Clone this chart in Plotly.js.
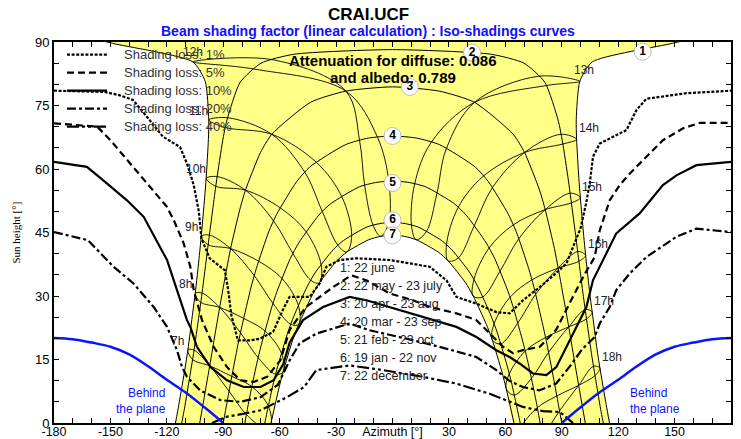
<!DOCTYPE html>
<html><head><meta charset="utf-8">
<script src="https://cdn.plot.ly/plotly-3.0.1.min.js"></script>
<style>body{margin:0;background:#fff}#chart{width:741px;height:439px}</style>
</head><body><div id="chart"></div>
<script>
// ---------------- DATA ----------------
const xTickVals = [-180,-150,-120,-90,-60,-30,0,30,60,90,120,150,180];
const xTickText = ['-180','-150','-120','-90','-60','-30','Azimuth [°]','30','60','90','120','150','180'];
const yTickVals = [0,15,30,45,60,75,90];
const yTickText = ['0','15','30','45','60','75','90'];

const dateNames = ['1: 22 june','2: 22 may - 23 july','3: 20 apr - 23 aug','4: 20 mar - 23 sep','5: 21 feb - 23 oct','6: 19 jan - 22 nov','7: 22 december'];
const dateIds = ['1','2','3','4','5','6','7'];
const dateLabelAz = [133,42.3,9.2,0,0,0,0];
const dateLabelAlt = [87.7,87.5,79.4,67.8,56.7,47.9,44.3];

// sun paths (azimuth / sun height) for each date
const dateAz = [
 [-115.4,-113.6,-110.3,-108.8,-106.2,-104.9,-102.7,-101.7,-99.9,-99.1,-97.9,-97.7,-99.6,-106.2,-149,-165,null,165,149,106.2,99.6,97.7,97.9,99.1,99.9,101.7,102.7,104.9,106.2,108.8,110.3,113.6,115.4],
 [-112.1,-110.7,-107.4,-105.8,-102.9,-101.5,-98.9,-97.6,-94.9,-93.5,-90.3,-88.2,-81.0,-69.9,-52.5,0,52.5,69.9,81.0,88.2,90.3,93.5,94.9,97.6,98.9,101.5,102.9,105.8,107.4,110.7,112.1],
 [-102.5,-99.0,-97.2,-93.7,-91.9,-88.1,-86.1,-81.2,-78.2,-70.2,-64.2,-43.6,-24.8,0,24.8,43.6,64.2,70.2,78.2,81.2,86.1,88.1,91.9,93.7,97.2,99.0,102.5],
 [-90,-88.1,-86.2,-82.2,-80.0,-75.2,-72.4,-65.8,-61.6,-51.0,-43.9,-25.0,-12.9,0,12.9,25.0,43.9,51.0,61.6,65.8,72.4,75.2,80.0,82.2,86.2,88.1,90],
 [-78.5,-76.4,-72.2,-69.8,-64.5,-61.5,-54.3,-49.9,-39.3,-32.9,-17.6,-9.0,0,9.0,17.6,32.9,39.3,49.9,54.3,61.5,64.5,69.8,72.2,76.4,78.5],
 [-67.9,-67.4,-63.3,-60.9,-55.6,-52.5,-45.4,-41.3,-31.6,-26.1,-13.6,-6.8,0,6.8,13.6,26.1,31.6,41.3,45.4,52.5,55.6,60.9,63.3,67.4,67.9],
 [-64.6,-60.5,-58.2,-53.0,-49.9,-42.9,-38.9,-29.6,-24.3,-12.6,-6.3,0,6.3,12.6,24.3,29.6,38.9,42.9,49.9,53.0,58.2,60.5,64.6]
];
const dateAlt = [
 [0,4.4,13.0,17.3,26.2,30.6,39.6,44.1,53.2,57.8,67.0,71.6,80.7,85.3,89.7,91.5,null,91.5,89.7,85.3,80.7,71.6,67.0,57.8,53.2,44.1,39.6,30.6,26.2,17.3,13.0,4.4,0],
 [0,3.2,12.0,16.4,25.4,29.9,39.0,43.6,52.8,57.4,66.7,71.3,80.5,85.0,87.1,88.2,87.1,85.0,80.5,71.3,66.7,57.4,52.8,43.6,39.0,29.9,25.4,16.4,12.0,3.2,0],
 [0,8.9,13.5,22.7,27.3,36.6,41.2,50.4,55.0,63.9,68.2,75.75,78.4,79.4,78.4,75.75,68.2,63.9,55.0,50.4,41.2,36.6,27.3,22.7,13.5,8.9,0],
 [0,4.6,9.25,18.5,23.0,32.1,36.5,45.2,49.3,57.0,60.5,65.75,67.3,67.8,67.3,65.75,60.5,57.0,49.3,45.2,36.5,32.1,23.0,18.5,9.25,4.6,0],
 [0,5.1,14.0,18.4,26.9,31.0,38.9,42.5,49.05,51.8,55.8,56.8,57.2,56.8,55.8,51.8,49.05,42.5,38.9,31.0,26.9,18.4,14.0,5.1,0],
 [0,1.1,9.5,13.6,21.5,25.2,32.2,35.4,40.9,43.1,46.3,47.1,47.4,47.1,46.3,43.1,40.9,35.4,32.2,25.2,21.5,13.6,9.5,1.1,0],
 [0,8.06,12.05,19.7,23.3,30.0,33.1,38.3,40.4,43.3,44.1,44.4,44.1,43.3,40.4,38.3,33.1,30.0,23.3,19.7,12.05,8.06,0]
];
// corners where the june path meets the top of the frame
const topEdgeAz = [-152,152];
const topEdgeAlt = [90,90];

// hour lines (analemma loops)
const hourNames = ['7h','8h','9h','10h','11h','12h','13h','14h','15h','16h','17h','18h'];
const hourLoopAz = [
 [-108.8,-105.5,-97.2,-86.9,-77.7,-68.5,-64.8,-66.0,-74.8,-85.4,-97.2,-106.3,-108.8],
 [-104.9,-101.3,-91.9,-80.8,-71.4,-62.1,-58.2,-59.0,-67.7,-79.1,-91.9,-101.95,-104.9],
 [-101.7,-97.4,-86.1,-73.5,-63.5,-54.1,-49.9,-50.0,-58.7,-71.1,-86.1,-98.0,-101.7],
 [-99.1,-93.2,-78.2,-63.2,-52.9,-43.4,-38.9,-37.9,-45.8,-59.6,-78.2,-93.9,-99.1],
 [-97.7,-87.5,-64.2,-46.6,-37.3,-29.0,-24.3,-21.7,-26.9,-40.3,-64.2,-88.9,-97.7],
 [-106.2,-63.6,-24.8,-17.5,-14.8,-10.3,-6.3,-2.0,-2.0,-8.0,-24.8,-73.5,-106.2],
 [99.6,81.6,43.6,20.6,11.8,10.1,12.6,18.0,23.6,28.6,43.6,77.5,99.6],
 [97.9,90.6,70.2,48.3,34.9,28.7,29.6,35.0,43.4,53.0,70.2,89.6,97.9],
 [99.9,95.1,81.2,64.2,51.3,43.3,42.9,47.9,57.1,67.1,81.2,94.5,99.9],
 [102.7,99.1,88.1,74.1,62.5,54.0,53.0,57.5,66.6,76.1,88.1,98.5,102.7],
 [106.2,103.2,93.7,81.4,70.6,62.1,60.5,64.7,73.8,83.0,93.7,102.5,106.2],
 [110.3,107.7,99.0,87.4,77.0,68.4,66.7,70.5,79.8,88.8,99.0,106.9,110.3]
];
const hourLoopAlt = [
 [17.3,17.2,13.5,7.5,2.0,-1.1,-0.5,4.0,8.6,11.0,13.5,15.0,17.3],
 [30.6,30.7,27.3,21.3,15.4,11.5,12.05,16.4,21.7,24.7,27.3,28.5,30.6],
 [44.1,44.4,41.2,34.8,28.2,23.3,23.3,27.7,34.1,38.2,41.2,42.1,44.1],
 [57.8,58.2,55.0,47.7,40.0,33.7,33.1,37.3,45.1,50.8,55.0,55.9,57.8],
 [71.6,72.1,68.2,59.2,49.9,41.95,40.4,44.2,53.4,61.5,68.2,69.8,71.6],
 [85.3,85.8,78.4,66.7,56.1,46.7,44.1,47.35,57.1,67.5,78.4,83.6,85.3],
 [80.7,79.7,75.75,66.3,56.5,46.7,43.3,45.2,54.2,64.75,75.75,81.9,80.7],
 [67.0,65.9,63.9,58.3,50.9,42.05,38.3,39.0,46.5,55.5,63.9,68.2,67.0],
 [53.2,52.0,50.4,46.8,41.3,33.9,30.0,29.75,35.8,43.5,50.4,54.3,53.2],
 [39.6,38.2,36.6,33.8,29.7,23.4,19.7,18.7,23.6,30.4,36.6,40.5,39.6],
 [26.2,24.6,22.7,20.2,17.0,11.6,8.06,6.6,10.5,16.7,22.7,26.8,26.2],
 [13.0,11.2,8.9,6.4,3.6,-1.0,-4.4,-6.3,-3.0,2.85,8.9,13.4,13.0]
];

// iso-shading curves
const isoNames = ['Shading loss: 1%','Shading loss: 5%','Shading loss: 10%','Shading loss: 20%','Shading loss: 40%'];
const iso1Az  = [-180,-153,-145,-138,-130.5,-122,-113,-109.3,-105.7,-103,-101.6,-97.2,-89.2,-87.5,-85.7,-82.2,-76,-70.6,-63.5,-58,-54.7,-44,-38.7,-35.2,-28.1,-19.2,-1.5,19.8,28.7,34,44.6,55.2,62.3,69.4,78.3,86,92.5,100,103,105,106.6,110.2,115.5,124.4,129.7,135,156.3,180];
const iso1Alt = [78.5,78.2,77.4,76.3,72.3,67.6,65.2,61.3,56.2,50,43.6,38.9,36.1,31.8,25.5,19.5,19.5,19.9,21.5,27,29.8,29.8,33,36.9,38.5,38.9,38.5,36.9,33.7,29.8,28.2,26.2,25.9,29,32.1,35,37.7,46,52,57,62.9,66,67.2,69.2,73.9,76.6,77.9,78.5];
const iso5Az  = [-180,-157,-150,-139.4,-130.5,-120,-116.3,-111,-107.5,-105.7,-101.3,-95.1,-88,-80.9,-73.8,-66.7,-59.6,-54.7,-50,-46,-38,-31.6,-21.9,-13.9,-1.5,10.9,19.8,34,44.6,51.7,58.8,64,69.4,78.3,87,95,102,107.5,110.2,115.5,120.8,126.1,135,143.8,154.5,163.3,180];
const iso5Alt = [70.8,70,66.8,61.3,56.6,51.1,47.9,42.4,36.9,31.4,24.3,18,13.2,10.1,9.7,10.9,14.8,22,25,27.4,30,32.1,34.9,33.7,30.6,29,27.4,25.9,24.3,21.1,18,16.5,17.2,18,22,29,35,39.2,45.5,52.6,56.2,58.9,62.9,66.8,69.6,70.9,70.9];
const iso10Az  = [-180,-162.5,-153,-141.2,-132.3,-119.9,-114.6,-109.3,-107.5,-104,-96.8,-88,-79.1,-70.2,-63.2,-58,-54.7,-47.6,-36.9,-22.8,-13.9,-1.5,16.2,34,44.6,55.2,62.3,67.7,74.7,81.8,87.1,94.2,103.1,106.6,113.7,119,131.4,138.5,143.8,151,161.6,180];
const iso10Alt = [61.7,60.5,57,52.6,48.7,38.5,31.4,24.3,22.7,18,13.2,10.1,8.5,8.5,10.1,14,19,24.3,27.4,29.8,29,27.4,25.1,22.7,20.3,17.2,15.6,14,11.7,11.3,13.2,19.5,27.4,33.7,40,44.8,49.5,53.4,56.2,58.5,60.9,61.7];
const iso20Az  = [-180,-162,-148.3,-137.6,-127,-119.9,-114.6,-111.9,-109.3,-102.2,-91.5,-80.9,-70.2,-61,-54.7,-49.4,-40.5,-22.8,-12.2,3.8,25,44.6,55.2,62,69.4,78,87,94,101,107.5,110.2,115.5,119,126.1,135,151,161.6,180];
const iso20Alt = [45.1,43.2,36.9,32.9,27.4,22.7,17.2,13.2,10.9,7.7,5.4,5,6.1,9,14.8,18.8,21.1,23.5,21.9,20.3,18,15.6,12.5,10,8.5,7.7,9.3,13.2,17.5,20.3,23.5,27.4,31.4,35.3,39.2,44,45.9,45.1];
const iso40Az  = [-96,-88,-79,-70.2,-56.1,-47,-40.5,-22.8,-5,16.2,34,51.7,69.4,80,89,96];
const iso40Alt = [0,1.5,2.2,3,6.1,8.5,12.5,13.6,12.5,10.9,9.3,6.9,3.8,2.8,2.6,0];

// "behind the plane" limits
const behindLeftAz  = [-180,-170,-160,-150,-140,-130,-120,-110,-100,-90];
const behindLeftAlt = [20.1,19.8,19.0,18.0,16.2,13.4,10.2,7.2,3.7,0];
const behindRightAz  = [90,100,110,120,130,140,150,160,170,180];
const behindRightAlt = [0,3.7,7.2,10.2,13.4,16.2,18.0,19.0,19.8,20.1];

// ---------------- BUILD ----------------
const traces = [];
const d1Az = dateAz[0], d1Alt = dateAlt[0], d7Az = dateAz[6], d7Alt = dateAlt[6];
const yAz = [].concat(d1Az.slice(0,14), topEdgeAz, d1Az.slice(19), d7Az.slice().reverse());
const yAlt = [].concat(d1Alt.slice(0,14), topEdgeAlt, d1Alt.slice(19), d7Alt.slice().reverse());
traces.push({x:yAz, y:yAlt, mode:'lines', fill:'toself', fillcolor:'#ffff88', line:{width:0, color:'#ffff88', shape:'spline', smoothing:0.6}, showlegend:false, hoverinfo:'skip'});

for (let i=0;i<hourLoopAz.length;i++){
  traces.push({x:hourLoopAz[i], y:hourLoopAlt[i], mode:'lines', line:{color:'#000', width:0.9, shape:'spline', smoothing:1}, showlegend:false, hoverinfo:'skip'});
}
for (let i=0;i<dateAz.length;i++){
  traces.push({x:dateAz[i], y:dateAlt[i], mode:'lines', line:{color:'#000', width:1, shape:'spline', smoothing:0.6}, showlegend:false, hoverinfo:'skip'});
}
const isoAz = [iso1Az, iso5Az, iso10Az, iso20Az, iso40Az];
const isoAlt = [iso1Alt, iso5Alt, iso10Alt, iso20Alt, iso40Alt];
const isoDash = ['3px,1.6px','7px,4px','solid','9px,3px,3px,3px','12px,3px,3px,3px,3px,3px'];
for (let i=0;i<5;i++){
  traces.push({x:isoAz[i], y:isoAlt[i], name:isoNames[i], mode:'lines', line:{color:'#000', width:2.2, dash:isoDash[i]}, showlegend:false, hoverinfo:'skip'});
}
traces.push({x:behindLeftAz, y:behindLeftAlt, mode:'lines', line:{color:'#0a14ff', width:2.5, shape:'spline'}, showlegend:false, hoverinfo:'skip'});
traces.push({x:behindRightAz, y:behindRightAlt, mode:'lines', line:{color:'#0a14ff', width:2.5, shape:'spline'}, showlegend:false, hoverinfo:'skip'});
traces.push({x:dateLabelAz, y:dateLabelAlt, text:dateIds, mode:'markers+text', textposition:'middle center',
  marker:{size:17, color:'#fff', line:{color:'#bbb', width:1}},
  textfont:{family:'Arial', size:12, color:'#000', weight:'bold'}, showlegend:false, hoverinfo:'skip', cliponaxis:false});

const ann = [];
const shapes = [];
const pxX = v => (v-54)/677, pxY = v => (423-v)/381;
ann.push({xref:'paper', yref:'paper', x:pxX(368), y:pxY(15), text:'<b>CRAI.UCF</b>', showarrow:false, xanchor:'center', yanchor:'middle', font:{size:17, color:'#000', family:'Arial'}});
ann.push({xref:'paper', yref:'paper', x:pxX(368), y:pxY(31), text:'<b>Beam shading factor (linear calculation) : Iso-shadings curves</b>', showarrow:false, xanchor:'center', yanchor:'middle', font:{size:14, color:'#1010ff', family:'Arial'}});
ann.push({xref:'x', yref:'y', x:0, y:85.6, text:'<b>Attenuation for diffuse: 0.086</b>', showarrow:false, xanchor:'center', yanchor:'middle', font:{size:15, color:'#000', family:'Arial'}});
ann.push({xref:'x', yref:'y', x:0, y:81.6, text:'<b>and albedo: 0.789</b>', showarrow:false, xanchor:'center', yanchor:'middle', font:{size:15, color:'#000', family:'Arial'}});
ann.push({xref:'paper', yref:'y', x:0, xshift:-39, y:45, text:'Sun height [°]', textangle:-90, showarrow:false, xanchor:'center', yanchor:'middle', font:{size:11, color:'#000', family:'Liberation Serif, DejaVu Serif, serif'}});
ann.push({xref:'x', yref:'y', x:-119.5, y:5.1, text:'Behind<br>the plane', align:'right', showarrow:false, xanchor:'right', yanchor:'middle', font:{size:12, color:'#0a14ff', family:'Arial'}});
ann.push({xref:'x', yref:'y', x:125, y:5.1, text:'Behind<br>the plane', align:'left', showarrow:false, xanchor:'left', yanchor:'middle', font:{size:12, color:'#0a14ff', family:'Arial'}});
for (let i=0;i<dateNames.length;i++){
  ann.push({xref:'x', yref:'y', x:-29, y:36.7 - i*4.25, text:dateNames[i], showarrow:false, xanchor:'left', yanchor:'middle', font:{size:12.5, color:'#222', family:'Arial'}});
}
for (let i=0;i<hourNames.length;i++){
  const morning = i<5, noon = i===5, one = i===6;
  ann.push({xref:'x', yref:'y', x:hourLoopAz[i][0], y:hourLoopAlt[i][0], text:hourNames[i], showarrow:false,
    xanchor:'center', yanchor:'middle', xshift: morning ? -10 : (noon ? 0 : (one ? 4 : 12)), yshift: morning ? 9 : (noon ? 10 : 11),
    font:{size:12, color:'#222', family:'Arial'}});
}
// legend of the iso-shading curves (drawn by hand for exact spacing)
for (let i=0;i<isoNames.length;i++){
  const rowY = 54.7 + i*18;
  shapes.push({type:'line', xref:'paper', yref:'paper', x0:pxX(67), x1:pxX(107), y0:pxY(rowY), y1:pxY(rowY),
    line:{color:'#000', width:2.2, dash:isoDash[i]}});
  ann.push({xref:'paper', yref:'paper', x:pxX(122), y:pxY(rowY), text:isoNames[i], showarrow:false, xanchor:'left', yanchor:'middle',
    font:{size:13, color:'#333', family:'Arial'}});
}

const layout = {
  width:741, height:439,
  margin:{l:54, r:10, t:42, b:16, pad:0},
  paper_bgcolor:'#fff', plot_bgcolor:'#fff',
  font:{family:'Arial, Liberation Sans, sans-serif', size:13, color:'#000'},
  xaxis:{range:[-180,180], tickmode:'array', tickvals:xTickVals, ticktext:xTickText, ticks:'inside', ticklen:5, tickwidth:1, tickcolor:'#000',
    showline:true, linewidth:2, linecolor:'#000', mirror:'ticks', showgrid:false, zeroline:false, ticklabelstandoff:-4,
    minor:{dtick:10, tick0:0, ticks:'inside', ticklen:5, tickcolor:'#000', showgrid:false}, tickfont:{size:12.5}},
  yaxis:{range:[0,90], tickmode:'array', tickvals:yTickVals, ticktext:yTickText, ticks:'inside', ticklen:5, tickwidth:1, tickcolor:'#000',
    showline:true, linewidth:2, linecolor:'#000', mirror:'ticks', showgrid:false, zeroline:false,
    minor:{dtick:5, tick0:0, ticks:'inside', ticklen:5, tickcolor:'#000', showgrid:false}, tickfont:{size:13}},
  showlegend:false,
  shapes:shapes,
  annotations:ann
};
Plotly.newPlot('chart', traces, layout, {displayModeBar:false, staticPlot:true});
</script></body></html>
